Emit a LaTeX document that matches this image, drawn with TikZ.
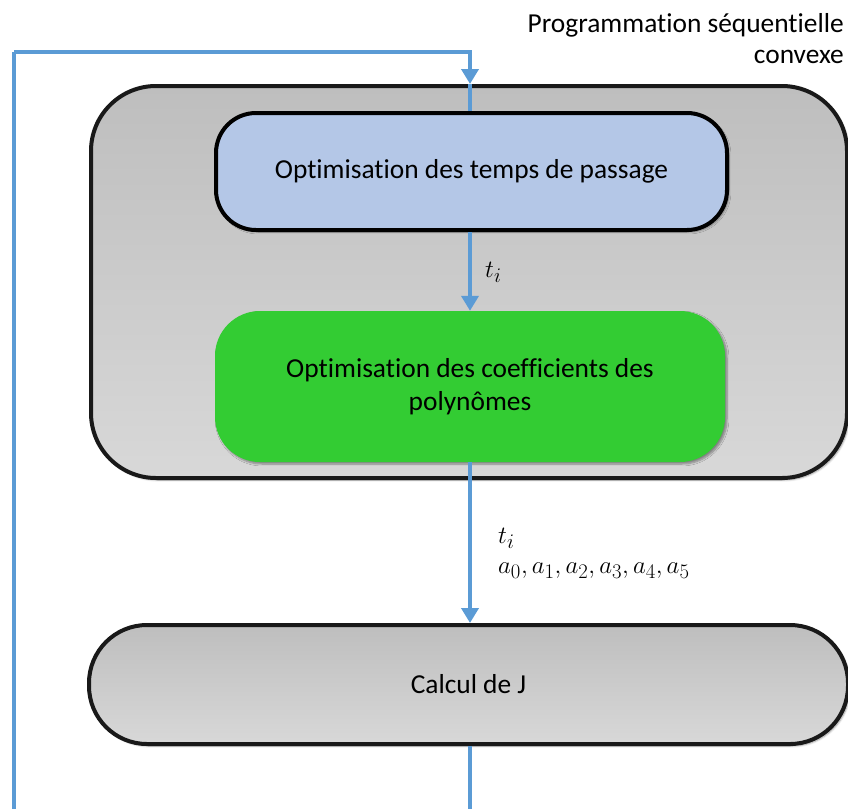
\documentclass[tikz,border=0pt]{standalone}
\usepackage{fontspec}
\setmainfont[Ligatures={NoCommon}]{Carlito}
\usetikzlibrary{arrows.meta,shadows.blur}
\definecolor{flowblue}{HTML}{5B9BD5}
\definecolor{boxblue}{HTML}{B4C7E7}
\definecolor{boxgreen}{HTML}{33CC33}
\definecolor{graytop}{HTML}{BEBEBE}
\definecolor{graybot}{HTML}{D8D8D8}
\tikzset{
  every node/.style={font=\fontsize{27.4}{32}\selectfont, inner sep=0pt},
  softshadow/.style={blur shadow={shadow xshift=2pt, shadow yshift=-2pt, shadow blur steps=6, shadow blur extra rounding=2pt, shadow opacity=40}},
  graybox/.style={rectangle, draw=black!90, line width=4pt, top color=graytop, bottom color=graybot, softshadow},
  bluebox/.style={rectangle, draw=black, line width=4pt, fill=boxblue, rounded corners=40pt, softshadow},
  greenbox/.style={rectangle, fill=boxgreen, rounded corners=45pt, softshadow, align=center},
  flow/.style={draw=flowblue, line width=4pt},
  flowarrow/.style={flow, -{Triangle[width=17pt,length=15pt]}},
  lbl/.style={anchor=west, align=left}
}
\begin{document}
\begin{tikzpicture}[x=1pt,y=-1pt]
\useasboundingbox (0,0) rectangle (848,809);
% outer container
\node[graybox, rounded corners=65pt, minimum width=756pt, minimum height=392pt] (outer) at (469,282) {};
\node[bluebox, minimum width=511pt, minimum height=117pt] (temps) at (471.5,171.5) {Optimisation des temps de passage};
\node[greenbox, minimum width=510pt, minimum height=151pt] (coef) at (470,386.5) {Optimisation des coefficients des\\[1pt]polynômes};
\node[graybox, rounded corners=58pt, minimum width=759pt, minimum height=119pt] (calc) at (468.5,684.5) {Calcul de J};
% title
\node[anchor=north east, align=right, font=\fontsize{27.4}{31}\selectfont] (title) at (844,13) {Programmation séquentielle\\convexe};
% coordinates for loop
\coordinate (topL) at (14,52);
\coordinate (topR) at (470,52);
\coordinate (botL) at (14,809);
\coordinate (botR) at (470,809);
\coordinate (outerIn) at (470,84);
% connectors
\draw[flowarrow] (topL) -- (topR) -- (outerIn);
\draw[flow] (outerIn) -- (temps.north -| outerIn);
\draw[flow] (topL) -- (botL);
\draw[flowarrow] (temps.south -| 470,0) -- (coef.north -| 470,0);
\draw[flowarrow] (coef.south -| 470,0) -- (calc.north -| 470,0);
\draw[flow] (calc.south -| 470,0) -- (botR);
% labels
\node[lbl] (l1) at (485,272) {$t_i$};
\node[lbl, anchor=north west] (l2) at (498,528) {$t_i$\\[-2pt]$a_0, a_1, a_2, a_3, a_4, a_5$};
\end{tikzpicture}
\end{document}
